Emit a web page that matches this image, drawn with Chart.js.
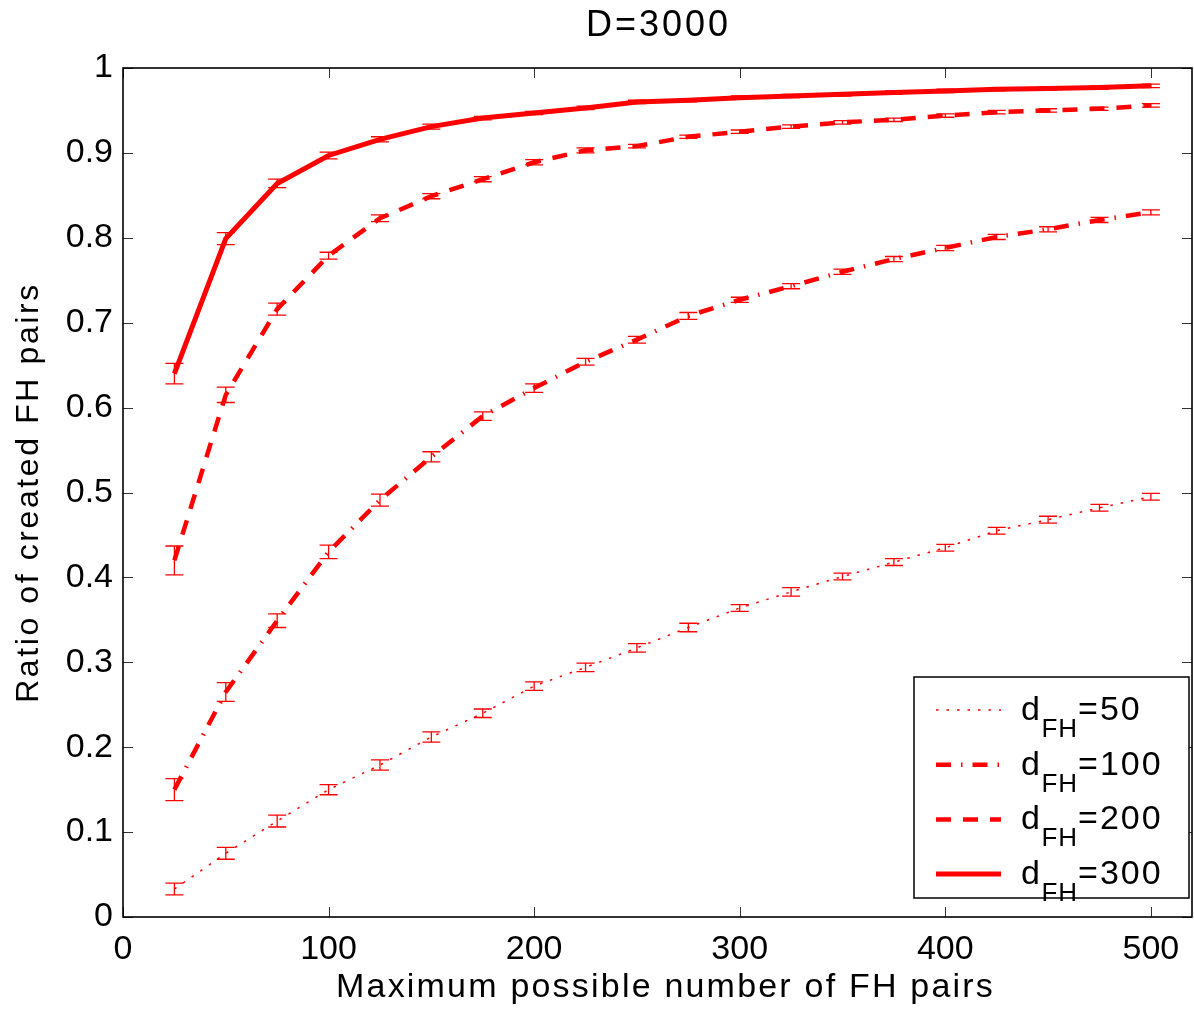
<!DOCTYPE html>
<html>
<head>
  <title>D=3000 FH pairs</title>
  <script src="https://cdn.jsdelivr.net/npm/chart.js"></script>
  <style>
    body { margin: 0; background: #fff; }
    #wrap { width: 1194px; height: 1010px; }
  </style>
</head>
<body>
  <div id="wrap"><canvas id="fhChart" width="1194" height="1010"></canvas></div>

  <script>
    // maximum possible number of FH pairs
    const pairs = [25, 50, 75, 100, 125, 150, 175, 200, 225, 250, 275, 300, 325, 350, 375, 400, 425, 450, 475, 500];

    // ratio of created FH pairs, one series per d_FH
    const ratio50  = [0.033, 0.075, 0.113, 0.150, 0.179, 0.212, 0.240, 0.272, 0.294, 0.317, 0.341, 0.364, 0.383, 0.401, 0.418, 0.435, 0.455, 0.468, 0.482, 0.495];
    const ratio100 = [0.150, 0.265, 0.349, 0.430, 0.491, 0.542, 0.590, 0.623, 0.654, 0.680, 0.708, 0.727, 0.743, 0.760, 0.775, 0.788, 0.801, 0.810, 0.821, 0.830];
    const ratio200 = [0.420, 0.615, 0.716, 0.779, 0.823, 0.849, 0.869, 0.889, 0.903, 0.908, 0.919, 0.925, 0.931, 0.936, 0.939, 0.944, 0.948, 0.950, 0.952, 0.956];
    const ratio300 = [0.640, 0.799, 0.864, 0.897, 0.916, 0.931, 0.941, 0.947, 0.953, 0.960, 0.962, 0.965, 0.967, 0.969, 0.971, 0.973, 0.975, 0.976, 0.977, 0.979];

    // half-width of the error bars
    const err50  = [0.007, 0.007, 0.007, 0.006, 0.006, 0.006, 0.005, 0.005, 0.005, 0.005, 0.005, 0.004, 0.005, 0.004, 0.004, 0.004, 0.004, 0.004, 0.004, 0.004];
    const err100 = [0.013, 0.011, 0.008, 0.008, 0.007, 0.006, 0.005, 0.005, 0.004, 0.004, 0.004, 0.003, 0.003, 0.003, 0.003, 0.003, 0.003, 0.003, 0.003, 0.003];
    const err200 = [0.017, 0.009, 0.007, 0.004, 0.004, 0.003, 0.003, 0.003, 0.003, 0.002, 0.002, 0.002, 0.002, 0.002, 0.002, 0.002, 0.002, 0.002, 0.002, 0.002];
    const err300 = [0.012, 0.007, 0.005, 0.004, 0.003, 0.003, 0.002, 0.002, 0.002, 0.002, 0.002, 0.002, 0.002, 0.002, 0.002, 0.002, 0.002, 0.002, 0.002, 0.002];

    const legendLabels = ['50', '100', '200', '300'];
    const xTicks = [0, 100, 200, 300, 400, 500];
    const yTicks = [0, 0.1, 0.2, 0.3, 0.4, 0.5, 0.6, 0.7, 0.8, 0.9, 1];

    const FONT = "'Liberation Sans', Arial, Helvetica, sans-serif";
    const RED = '#ff0000';

    const series = [
      { y: ratio50,  err: err50,  width: 1.5, dash: [2.5, 8] },
      { y: ratio100, err: err100, width: 4.5, dash: [15, 10, 1.5, 10] },
      { y: ratio200, err: err200, width: 4.5, dash: [15, 12] },
      { y: ratio300, err: err300, width: 5,   dash: [] }
    ];

    const datasets = series.map((s, i) => ({
      label: 'dFH=' + legendLabels[i],
      data: pairs.map((p, j) => ({ x: p, y: s.y[j] })),
      borderColor: RED,
      borderWidth: s.width,
      borderDash: s.dash,
      borderCapStyle: 'butt',
      pointRadius: 0,
      tension: 0,
      fill: false
    }));

    function spacedText(ctx, text, x, y, size, spacing, align) {
      ctx.font = size + 'px ' + FONT;
      ctx.letterSpacing = spacing + 'px';
      ctx.textAlign = align;
      ctx.fillText(text, x, y);
      const w = ctx.measureText(text).width;
      ctx.letterSpacing = '0px';
      return w;
    }

    // error bars, boxed axes with inward ticks, titles and the legend with subscripts
    const framePlugin = {
      id: 'frame',
      afterDatasetsDraw(chart) {
        const ctx = chart.ctx;
        const xs = chart.scales.x, ys = chart.scales.y;
        ctx.save();
        ctx.strokeStyle = RED;
        ctx.lineWidth = 1.3;
        ctx.setLineDash([]);
        series.forEach(s => {
          pairs.forEach((p, j) => {
            const px = xs.getPixelForValue(p);
            const top = ys.getPixelForValue(s.y[j] + s.err[j]);
            const bot = ys.getPixelForValue(s.y[j] - s.err[j]);
            ctx.beginPath();
            ctx.moveTo(px, top); ctx.lineTo(px, bot);
            ctx.moveTo(px - 9, top); ctx.lineTo(px + 9, top);
            ctx.moveTo(px - 9, bot); ctx.lineTo(px + 9, bot);
            ctx.stroke();
          });
        });
        ctx.restore();
      },
      afterDraw(chart) {
        const ctx = chart.ctx;
        const a = chart.chartArea;
        const xs = chart.scales.x, ys = chart.scales.y;
        const midX = (a.left + a.right) / 2;
        const midY = (a.top + a.bottom) / 2;
        ctx.save();
        ctx.setLineDash([]);

        // tick marks pointing into the plot on every side
        ctx.strokeStyle = '#333';
        ctx.lineWidth = 1;
        ctx.beginPath();
        xTicks.forEach(v => {
          const px = Math.round(xs.getPixelForValue(v)) + 0.5;
          ctx.moveTo(px, a.bottom); ctx.lineTo(px, a.bottom - 10);
          ctx.moveTo(px, a.top); ctx.lineTo(px, a.top + 10);
        });
        yTicks.forEach(v => {
          const py = Math.round(ys.getPixelForValue(v)) + 0.5;
          ctx.moveTo(a.left, py); ctx.lineTo(a.left + 10, py);
          ctx.moveTo(a.right, py); ctx.lineTo(a.right - 10, py);
        });
        ctx.stroke();

        ctx.strokeStyle = '#000';
        ctx.lineWidth = 1.6;
        ctx.strokeRect(a.left, a.top, a.right - a.left, a.bottom - a.top);

        // title and axis titles
        ctx.fillStyle = '#000';
        ctx.textBaseline = 'alphabetic';
        spacedText(ctx, 'D=3000', midX + 1, 36, 36, 3, 'center');
        spacedText(ctx, 'Maximum possible number of FH pairs', midX + 8, 997, 34, 2.2, 'center');
        ctx.save();
        ctx.translate(38, midY);
        ctx.rotate(-Math.PI / 2);
        spacedText(ctx, 'Ratio of created FH pairs', 0, 0, 32, 2.6, 'center');
        ctx.restore();

        // legend box
        const bx = a.right - 278, by = a.bottom - 240, bw = 275, bh = 221;
        ctx.fillStyle = '#fff';
        ctx.fillRect(bx, by, bw, bh);
        ctx.lineWidth = 1.5;
        ctx.strokeRect(bx, by, bw, bh);

        series.forEach((s, i) => {
          const rowY = by + 33 + i * 54.7;
          ctx.strokeStyle = RED;
          ctx.lineWidth = s.width;
          ctx.lineCap = 'butt';
          ctx.setLineDash(s.dash);
          ctx.beginPath();
          ctx.moveTo(bx + 22, rowY);
          ctx.lineTo(bx + 87, rowY);
          ctx.stroke();
          ctx.setLineDash([]);

          ctx.fillStyle = '#000';
          ctx.textBaseline = 'alphabetic';
          let tx = bx + 107;
          const base = rowY + 10;
          tx += spacedText(ctx, 'd', tx, base, 34, 1.5, 'left');
          tx += spacedText(ctx, 'FH', tx, base + 17, 26, 1, 'left');
          spacedText(ctx, '=' + legendLabels[i], tx, base, 34, 2, 'left');
        });
        ctx.restore();
      }
    };

    new Chart(document.getElementById('fhChart'), {
      type: 'line',
      data: { datasets },
      options: {
        responsive: false,
        animation: false,
        layout: { padding: { top: 68, right: 2, bottom: 0, left: 0 } },
        plugins: {
          legend: { display: false },
          tooltip: { enabled: false },
          title: { display: false }
        },
        scales: {
          x: {
            type: 'linear',
            min: 0,
            max: 520,
            afterFit(scale) { scale.height = 93; },
            afterBuildTicks(scale) { scale.ticks = xTicks.map(v => ({ value: v })); },
            grid: { display: false, drawTicks: false },
            border: { display: false },
            ticks: {
              color: '#000',
              padding: 12,
              maxRotation: 0,
              font: { family: FONT, size: 34 }
            }
          },
          y: {
            min: 0,
            max: 1,
            afterFit(scale) { scale.width = 123; },
            afterBuildTicks(scale) { scale.ticks = yTicks.map(v => ({ value: v })); },
            grid: { display: false, drawTicks: false },
            border: { display: false },
            ticks: {
              color: '#000',
              padding: 10,
              font: { family: FONT, size: 34 },
              callback: v => String(Math.round(v * 10) / 10)
            }
          }
        }
      },
      plugins: [framePlugin]
    });
  </script>
</body>
</html>
